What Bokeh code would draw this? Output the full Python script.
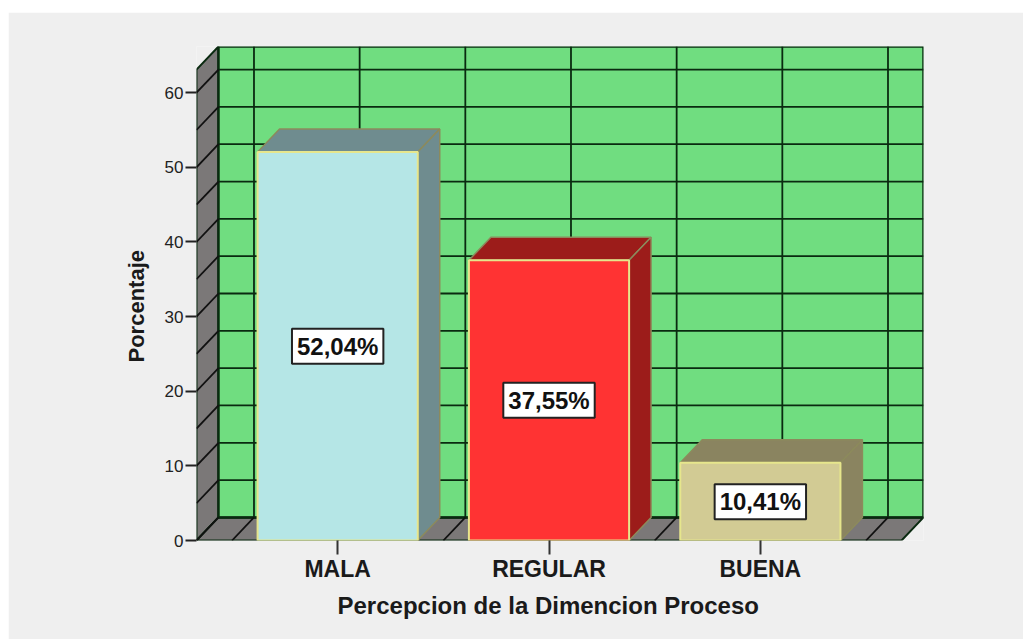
from bokeh.plotting import figure
from bokeh.models import Title, FixedTicker, Range1d
from bokeh.core.properties import value
from bokeh.embed import file_html
from bokeh.resources import INLINE

categories = ["MALA", "REGULAR", "BUENA"]
percentages = [52.04, 37.55, 10.41]
value_labels = ["52,04%", "37,55%", "10,41%"]
front_colors = ["#B5E6E6", "#FF3333", "#D2CB94"]
side_colors = ["#6F8C8F", "#9C1C1A", "#8A8460"]
y_ticks = [0, 10, 20, 30, 40, 50, 60]
y_grid = [5 * k for k in range(13)]
x_grid = [-0.5, 0, 0.5, 1, 1.5, 2, 2.5]

FONT = "Liberation Sans"
DX, DY = 0.104, 3.09          # 3D depth
BW = 0.758                    # bar width
X0, X1 = -0.668, 2.668        # floor extent, front
YTOP = 63.09                  # wall height
WALL = "#7B7878"
BACK = "#70DD80"
LINE = "#0A2A10"
BG = "#EFEFEF"

p = figure(width=1015, height=627, output_backend="svg", toolbar_location=None,
           x_range=Range1d(X0, X1 + DX), y_range=Range1d(0, YTOP + DY),
           min_border_left=188, min_border_right=100, min_border_top=34, min_border_bottom=99,
           background_fill_color=BG, border_fill_color=BG, outline_line_color=None,
           margin=(12, 0, 0, 8))
p.grid.visible = False

# Axes
ya = p.yaxis[0]
ya.ticker = FixedTicker(ticks=y_ticks)
ya.axis_line_color = None
ya.major_tick_in = 0
ya.major_tick_out = 11
ya.minor_tick_line_color = None
ya.major_tick_line_color = "#222222"
ya.major_tick_line_width = 2
ya.major_label_standoff = 2
ya.major_label_text_font = FONT
ya.major_label_text_font_size = "17px"
ya.major_label_text_color = "#222222"

xa = p.xaxis[0]
xa.ticker = FixedTicker(ticks=[0, 1, 2])
xa.major_label_overrides = {i: c for i, c in enumerate(categories)}
xa.axis_line_color = None
xa.major_tick_in = 0
xa.major_tick_out = 14
xa.minor_tick_line_color = None
xa.major_tick_line_color = "#333333"
xa.major_tick_line_width = 2
xa.major_label_standoff = 1
xa.major_label_text_font = FONT
xa.major_label_text_font_style = "bold"
xa.major_label_text_font_size = "23px"
xa.major_label_text_color = "#1A1A1A"

# Walls and floor
p.patch([X0, X0 + DX, X0 + DX, X0], [0, DY, YTOP + DY, YTOP], fill_color=WALL,
        line_color=LINE, line_width=2)
p.patch([X0, X1, X1 + DX, X0 + DX], [0, 0, DY, DY], fill_color=WALL,
        line_color=LINE, line_width=2)
p.patch([X0 + DX, X1 + DX, X1 + DX, X0 + DX], [DY, DY, YTOP + DY, YTOP + DY],
        fill_color=BACK, line_color=LINE, line_width=2.5)

# Grid on the walls
for v in y_grid:
    p.line([X0 + DX, X1 + DX], [v + DY, v + DY], line_color=LINE, line_width=1.8)
    p.line([X0, X0 + DX], [v, v + DY], line_color="#111111", line_width=1.8)
for g in x_grid:
    p.line([g + DX, g + DX], [DY, YTOP + DY], line_color=LINE, line_width=1.8)
    p.line([g, g + DX], [0, DY], line_color="#111111", line_width=1.8)

# Bars
for i, v in enumerate(percentages):
    l, r = i - BW / 2, i + BW / 2
    p.patch([l, l + DX, r + DX, r], [v, v + DY, v + DY, v], fill_color=side_colors[i],
            line_color="#8C8A5C", line_width=1.5)
    p.patch([r, r + DX, r + DX, r], [0, DY, v + DY, v], fill_color=side_colors[i],
            line_color="#8C8A5C", line_width=1.5)
    p.quad(left=l, right=r, bottom=0, top=v, fill_color=front_colors[i],
           line_color="#E6E68C", line_width=2)

# Value labels
p.text(x=[0, 1, 2], y=[v / 2 for v in percentages], text=value_labels,
       text_align="center", text_baseline="middle",
       text_font=value(FONT), text_font_style="bold", text_font_size="24px",
       text_color="#111111", background_fill_color="#FFFFFF",
       border_line_color="#222222", border_line_width=2, padding=(5, 4))

# Axis titles
p.add_layout(Title(text="Percepcion de la Dimencion Proceso", align="left", offset=141,
                   text_font=FONT, text_font_style="bold", text_font_size="24px",
                   text_color="#1A1A1A", standoff=10), "below")
p.add_layout(Title(text="Porcentaje", align="left", offset=178,
                   text_font=FONT, text_font_style="bold", text_font_size="22px",
                   text_color="#1A1A1A", standoff=25), "left")

open("out.html", "w").write(file_html(p, INLINE))
